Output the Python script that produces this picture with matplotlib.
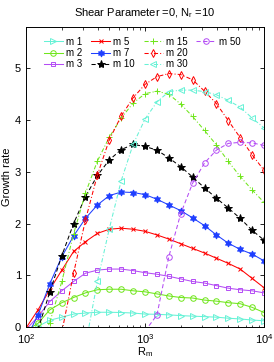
import numpy as np
import matplotlib
matplotlib.use("Agg")
import matplotlib.pyplot as plt
from matplotlib.ticker import LogLocator, FixedLocator
from matplotlib.lines import Line2D

plt.rcParams['font.family'] = ['Liberation Sans', 'DejaVu Sans']
plt.rcParams['mathtext.fontset'] = 'custom'
plt.rcParams['mathtext.rm'] = 'Liberation Sans'
plt.rcParams['mathtext.it'] = 'Liberation Sans:italic'

nan = np.nan
Rm = [100, 126, 158, 200, 251, 316, 398, 501, 631, 794, 1000,
      1259, 1585, 1995, 2512, 3162, 3981, 5012, 6310, 7943, 10000]

m1 = [-0.1, 0.01, 0.13, 0.19, 0.25, 0.27, 0.285, 0.285, 0.28, 0.27, 0.25,
      0.245, 0.235, 0.22, 0.21, 0.20, 0.19, 0.17, 0.155, 0.135, 0.12]
m2 = [-0.07, 0.07, 0.33, 0.47, 0.57, 0.66, 0.72, 0.73, 0.73, 0.70, 0.68,
      0.64, 0.60, 0.57, 0.56, 0.52, 0.50, 0.47, 0.45, 0.38, 0.28]
m3 = [-0.05, 0.20, 0.49, 0.70, 0.88, 1.04, 1.10, 1.12, 1.12, 1.09, 1.05,
      1.02, 0.98, 0.93, 0.88, 0.85, 0.80, 0.75, 0.72, 0.70, 0.66]
m5 = [-0.02, 0.33, 0.72, 1.10, 1.46, 1.65, 1.81, 1.89, 1.91, 1.89, 1.85,
      1.78, 1.70, 1.61, 1.52, 1.43, 1.33, 1.23, 1.12, 0.94, 0.76]
m7 = [-0.23, 0.23, 0.83, 1.36, 1.76, 2.10, 2.36, 2.54, 2.61, 2.60, 2.56,
      2.47, 2.36, 2.25, 2.11, 1.96, 1.78, 1.62, 1.50, 1.41, 1.28]
m10 = [nan, -0.05, 0.67, 1.38, 2.00, 2.52, 2.93, 3.23, 3.43, 3.53, 3.49,
       3.42, 3.27, 3.10, 2.90, 2.69, 2.49, 2.30, 2.10, 1.87, 1.68]
m15 = [nan, -0.4, 0.08, 0.88, 1.80, 2.59, 3.21, 3.67, 4.04, 4.33, 4.51,
       4.56, 4.50, 4.31, 4.07, 3.80, 3.52, 3.20, 2.91, 2.65, 2.41]
m20 = [nan, nan, nan, -0.1, 1.04, 2.07, 2.94, 3.62, 4.08, 4.43, 4.69,
       4.84, 4.90, 4.88, 4.78, 4.56, 4.32, 3.99, 3.66, 3.33, 3.03]
m30 = [nan, nan, nan, nan, nan, -0.35, 0.88, 1.90, 2.83, 3.53, 4.02,
       4.35, 4.55, 4.58, 4.58, 4.55, 4.49, 4.38, 4.25, 4.04, 3.85]
m50 = [nan, nan, nan, nan, nan, nan, nan, nan, nan, nan, -0.08,
       0.23, 1.36, 2.19, 2.78, 3.17, 3.42, 3.55, 3.57, 3.56, 3.51]

labels = ['m 1', 'm 2', 'm 3', 'm 5', 'm 7', 'm 10', 'm 15', 'm 20', 'm 30', 'm 50']
series = [m1, m2, m3, m5, m7, m10, m15, m20, m30, m50]

cyan = '#66f2d6'
green = '#70e61c'
purple = '#b44cf5'
red = '#ff0000'
blue = '#1f3fff'
black = '#000000'
colors = [cyan, green, purple, red, blue, black, green, red, cyan, purple]
dash = (0, (4, 2.5))
dashdot = (0, (4, 2, 1, 2))
styles = ['-', '-', '-', '-', '-', dash, dashdot, dashdot, dashdot, dash]
markers = ['>', 'o', 's', 'x', (6, 1, 0), '*', '+', 'd', '<', 'o']
filled = [False, False, False, False, True, True, False, False, False, False]
msizes = [4, 4, 3.5, 3.5, 5, 6, 5, 4, 4, 4]

fig = plt.figure(figsize=(2.74, 3.62), dpi=100)
ax = fig.add_axes([0.095, 0.0967, 0.8685, 0.8287])

handles = []
for y, lab, c, ls, mk, fl, ms in zip(series, labels, colors, styles, markers, filled, msizes):
    h, = ax.plot(Rm, y, linestyle=ls, color=c, marker=mk, markersize=ms,
                 markerfacecolor=(c if fl else 'none'), markeredgecolor=c,
                 markeredgewidth=0.7, linewidth=0.75, label=lab)
    handles.append(h)

ax.set_xscale('log')
ax.set_xlim(100, 10000)
ax.set_ylim(0, 5.8)
ax.yaxis.set_major_locator(FixedLocator([0, 1, 2, 3, 4, 5]))
ax.xaxis.set_minor_locator(LogLocator(base=10, subs=np.arange(2, 10)))
ax.tick_params(which='both', direction='in', top=True, right=True, labelsize=8)
ax.tick_params(which='major', length=3, width=0.6)
ax.tick_params(which='minor', length=1.8, width=0.5)
for s in ax.spines.values():
    s.set_linewidth(0.7)

ax.set_title('Shear Parameter =0, N$_{\\rm r}$ =10', fontsize=8, pad=8)
ax.set_xlabel('R$_{\\rm m}$', fontsize=8, labelpad=0)
ax.set_ylabel('Growth rate', fontsize=8, labelpad=2)

blank = Line2D([], [], linestyle='none', marker=None)
leg_handles = handles[:9] + [handles[9], blank, blank]
leg_labels = labels[:9] + [labels[9], '', '']
leg = ax.legend(leg_handles, leg_labels, ncol=4, loc='upper left',
                bbox_to_anchor=(0.045, 0.99), frameon=False,
                fontsize=7, handlelength=2.0, handletextpad=0.3, columnspacing=0.9,
                labelspacing=0.12, borderpad=0.2, numpoints=1)

fig.savefig('out.png', dpi=100)
